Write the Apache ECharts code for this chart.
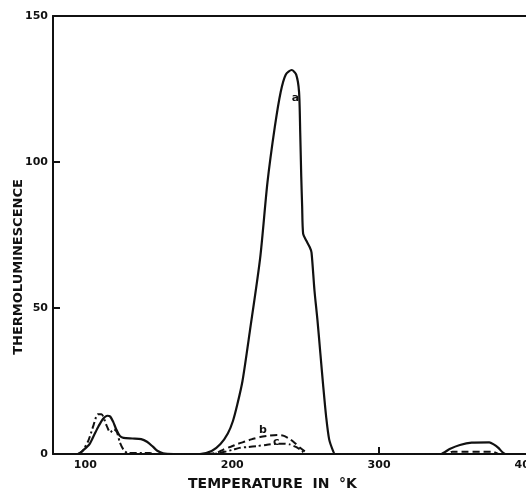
<!DOCTYPE html>
<html>
<head>
<meta charset="utf-8">
<style>
  html, body { margin: 0; padding: 0; background: #fff; }
  #chart { width: 526px; height: 491px; }
</style>
<script src="https://cdn.jsdelivr.net/npm/echarts@6/dist/echarts.min.js"></script>
</head>
<body>
<div id="chart"></div>
<script>
// curve a (solid)
var tempsA = [78, 95, 99, 103, 106, 109, 112, 115, 117, 119, 121, 123.5, 126, 132, 138, 142, 146, 149, 153, 160,
  178, 186, 192, 197, 200.5, 203.5, 207, 212, 219, 224, 229, 233, 236.5, 240.5, 243.5, 245.5, 246.3, 247, 247.6, 248.3,
  250.5, 252.8, 254, 256, 258, 260, 262, 264, 266, 268.7, 270, 340, 342, 348, 355, 363, 375, 378, 381, 384, 386, 400];
var valuesA = [0, 0, 1.5, 3.5, 6.5, 9.5, 12, 13.1, 12.8, 11, 8.5, 6.2, 5.5, 5.3, 5.1, 4.2, 2.5, 1.1, 0.2, 0,
  0, 1, 3.4, 7, 11.3, 17, 25, 42, 67, 93, 112, 124, 130, 131.5, 130, 124, 110, 95, 85, 75.4,
  73, 70.8, 69, 56, 46, 34.5, 23, 12.5, 5, 1, 0, 0, 0, 1.7, 3.1, 3.9, 4, 3.3, 2.2, 0.6, 0, 0];
// curve b (dashed)
var tempsB = [183, 190, 194, 199, 204, 209, 213, 219, 225.5, 231, 234.7, 239, 242.6, 246, 249.4, 252,
  346, 350, 377, 381];
var valuesB = [0, 0.5, 1.5, 2.5, 3.5, 4.3, 5, 5.8, 6.3, 6.5, 6.3, 5.2, 3.8, 2.2, 0.9, 0,
  0, 0.8, 0.8, 0];
// curve c (dash-dot)
var tempsC = [95, 98, 102, 105.5, 108.5, 111, 114.5, 117, 119.5, 121.5, 123.5, 126, 129, 144, 147,
  185, 191, 196, 200, 205, 211, 216.6, 223, 230, 235, 239, 243, 246, 248, 250];
var valuesC = [0, 1, 4.5, 9.7, 13.6, 13.6, 9.7, 7.4, 8.5, 7.5, 4, 1.5, 0.3, 0.3, 0,
  0, 0.3, 0.9, 1.4, 2.1, 2.4, 2.7, 3.1, 3.5, 3.5, 3.3, 2.5, 1.6, 0.8, 0];

var xTicks = [100, 200, 300, 400];
var yTicks = [0, 50, 100, 150];
var curveNames = ['a', 'b', 'c'];

function pairs(xs, ys) {
  return xs.map(function (x, i) { return [x, ys[i]]; });
}

var font = '"DejaVu Sans", sans-serif';
var myChart = echarts.init(document.getElementById('chart'));

var option = {
  animation: false,
  backgroundColor: '#fff',
  grid: { left: 53, right: 0, top: 16, bottom: 37, outerBoundsMode: 'none', containLabel: false },
  xAxis: [
    {
      type: 'value',
      min: 78,
      max: 400,
      name: 'TEMPERATURE  IN  °K',
      nameLocation: 'middle',
      nameGap: 23,
      nameMoveOverlap: false,
      nameTextStyle: { fontFamily: font, fontWeight: 'bold', fontSize: 14, color: '#111', padding: [0, 34, 0, 0] },
      axisLine: { lineStyle: { color: '#111', width: 2 } },
      axisTick: { inside: true, length: 7, lineStyle: { color: '#111', width: 2 }, customValues: [300] },
      axisLabel: { customValues: xTicks, fontFamily: font, fontWeight: 'bold', fontSize: 11, color: '#111', margin: 6 },
      splitLine: { show: false }
    },
    {
      type: 'value',
      position: 'top',
      min: 78,
      max: 400,
      axisLine: { show: true, lineStyle: { color: '#111', width: 2 } },
      axisTick: { show: false },
      axisLabel: { show: false },
      splitLine: { show: false }
    }
  ],
  yAxis: {
    type: 'value',
    min: 0,
    max: 150,
    interval: 50,
    name: 'THERMOLUMINESCENCE',
    nameLocation: 'middle',
    nameGap: 28,
    nameMoveOverlap: false,
    nameTextStyle: { fontFamily: font, fontWeight: 'bold', fontSize: 13, color: '#111', padding: [0, 64, 0, 0] },
    axisLine: { show: true, lineStyle: { color: '#111', width: 2 } },
    axisTick: { show: true, inside: true, length: 7, lineStyle: { color: '#111', width: 2 } },
    axisLabel: { customValues: yTicks, fontFamily: font, fontWeight: 'bold', fontSize: 11, color: '#111', margin: 5 },
    splitLine: { show: false }
  },
  series: [
    {
      name: curveNames[0],
      type: 'line',
      data: pairs(tempsA, valuesA),
      showSymbol: false,
      smooth: 0.25,
      lineStyle: { color: '#111', width: 2.2 },
      markPoint: {
        symbolSize: 0,
        label: { show: true, formatter: curveNames[0], fontFamily: font, fontWeight: 'bold', fontSize: 11, color: '#111' },
        data: [{ coord: [243, 122] }]
      }
    },
    {
      name: curveNames[1],
      type: 'line',
      data: pairs(tempsB, valuesB),
      showSymbol: false,
      smooth: 0.25,
      lineStyle: { color: '#111', width: 2, type: [7, 4] },
      markPoint: {
        symbolSize: 0,
        label: { show: true, formatter: curveNames[1], fontFamily: font, fontWeight: 'bold', fontSize: 11, color: '#111' },
        data: [{ coord: [221, 8] }]
      }
    },
    {
      name: curveNames[2],
      type: 'line',
      data: pairs(tempsC, valuesC),
      showSymbol: false,
      smooth: 0.25,
      lineStyle: { color: '#111', width: 2, type: [7, 3, 2, 3] },
      markPoint: {
        symbolSize: 0,
        label: { show: true, formatter: curveNames[2], fontFamily: font, fontWeight: 'bold', fontSize: 11, color: '#111' },
        data: [{ coord: [230, 4.2] }]
      }
    }
  ]
};

myChart.setOption(option);
</script>
</body>
</html>
